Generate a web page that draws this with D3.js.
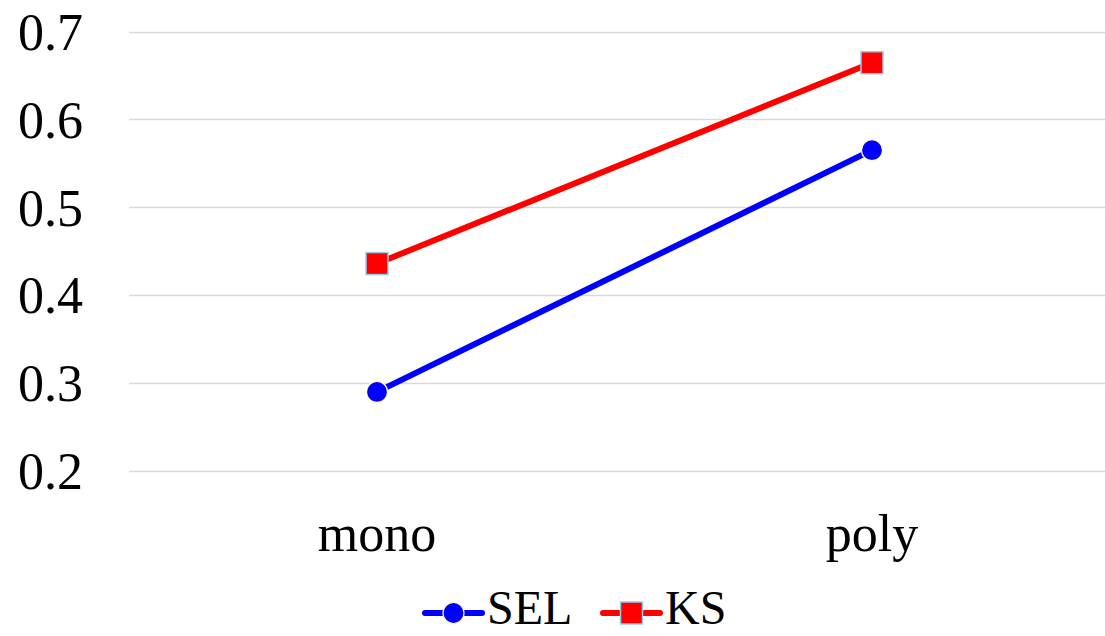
<!DOCTYPE html>
<html>
<head>
<meta charset="utf-8">
<script src="https://cdn.jsdelivr.net/npm/d3@7"></script>
<style>
  html, body { margin: 0; padding: 0; background: #fff; overflow: hidden; }
</style>
</head>
<body>
<svg class="chart" width="1105" height="636"></svg>
<script>
// data
var categories = ["mono", "poly"];
var selValues = [0.290, 0.565];
var ksValues = [0.436, 0.6645];
var yTicks = [0.2, 0.3, 0.4, 0.5, 0.6, 0.7];

var series = [
    { name: "SEL", values: selValues, color: "#0000ff", shape: "circle", edge: "#ffffc8" },
    { name: "KS", values: ksValues, color: "#ff0000", shape: "square", edge: "#8ecfea" }
];

var svg = d3.select(".chart");
var font = "'Liberation Serif', 'Times New Roman', serif";

var x = d3.scalePoint()
    .domain(categories)
    .range([129.5, 1119.5])
    .padding(0.5);

var y = d3.scaleLinear()
    .domain([0.2, 0.7])
    .range([471, 31.5]);

// grid lines
svg.selectAll(".grid")
    .data(yTicks)
    .enter().append("line")
    .attr("class", "grid")
    .attr("x1", 129)
    .attr("x2", 1105)
    .attr("y1", d => Math.round(y(d)) + 0.5)
    .attr("y2", d => Math.round(y(d)) + 0.5)
    .attr("stroke", "#d9d9d9")
    .attr("stroke-width", 1.5);

// y labels
svg.selectAll(".ylab")
    .data(yTicks)
    .enter().append("text")
    .attr("class", "ylab")
    .attr("x", 83)
    .attr("y", d => y(d))
    .attr("dy", "0.35em")
    .attr("text-anchor", "end")
    .attr("font-family", font)
    .attr("font-size", "52px")
    .attr("fill", "#000")
    .text(d => d3.format(".1f")(d));

// x labels
svg.selectAll(".xlab")
    .data(categories)
    .enter().append("text")
    .attr("class", "xlab")
    .attr("x", d => x(d))
    .attr("y", 551)
    .attr("text-anchor", "middle")
    .attr("font-family", font)
    .attr("font-size", "52px")
    .attr("fill", "#000")
    .text(d => d);

var line = d3.line()
    .x((d, i) => x(categories[i]))
    .y(d => y(d));

function drawMarker(g, s, cx, cy, size) {
    if (s.shape === "circle") {
        g.append("circle")
            .attr("cx", cx)
            .attr("cy", cy)
            .attr("r", size / 2)
            .attr("fill", s.color)
            .attr("stroke", s.edge)
            .attr("stroke-width", 1.2);
    } else {
        g.append("rect")
            .attr("x", cx - size / 2)
            .attr("y", cy - size / 2)
            .attr("width", size)
            .attr("height", size)
            .attr("fill", s.color)
            .attr("stroke", s.edge)
            .attr("stroke-width", 1.5);
    }
}

series.forEach(function (s) {
    var g = svg.append("g").attr("class", "series-" + s.name);
    g.append("path")
        .datum(s.values)
        .attr("d", line)
        .attr("fill", "none")
        .attr("stroke", s.color)
        .attr("stroke-width", 6)
        .attr("stroke-linecap", "round");
    s.values.forEach(function (v, i) {
        drawMarker(g, s, x(categories[i]), y(v), s.shape === "circle" ? 21 : 22);
    });
});

// legend
var legendX = [425, 603];
var legendY = 613;
series.forEach(function (s, i) {
    var g = svg.append("g")
        .attr("class", "legend")
        .attr("transform", `translate(${legendX[i]}, ${legendY})`);
    g.append("line")
        .attr("x1", 0)
        .attr("x2", 57)
        .attr("y1", 0)
        .attr("y2", 0)
        .attr("stroke", s.color)
        .attr("stroke-width", 6)
        .attr("stroke-linecap", "round");
    drawMarker(g, s, 28.5, 0, s.shape === "circle" ? 21 : 22);
    g.append("text")
        .attr("x", 62)
        .attr("y", 11)
        .attr("font-family", font)
        .attr("font-size", "48px")
        .attr("fill", "#000")
        .text(s.name);
});
</script>
</body>
</html>
